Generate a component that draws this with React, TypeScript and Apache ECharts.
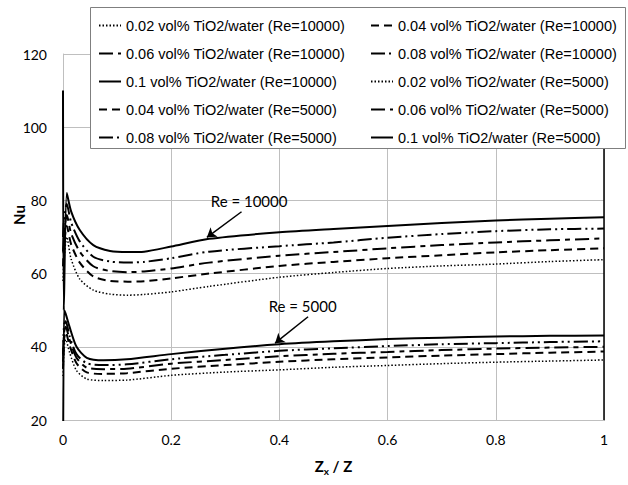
import React, { useEffect, useRef } from "react";
import * as echarts from "echarts";

// ---- data ----
const zRe10000 = [0, 0.0015, 0.007, 0.015, 0.031, 0.056, 0.087, 0.12, 0.15, 0.2, 0.27, 0.4, 0.5, 0.6, 0.7, 0.8, 0.9, 1];
const nu10000_002 = [58, 63, 70, 64, 58.5, 55.5, 54.4, 54.1, 54.3, 55.0, 56.5, 59.0, 60.3, 61.4, 62.1, 62.6, 63.3, 63.8];
const nu10000_004 = [62, 67, 73, 68, 63.0, 59.2, 58.0, 57.8, 57.9, 58.7, 60.0, 62.1, 63.2, 64.2, 65.0, 65.8, 66.4, 66.9];
const nu10000_006 = [66, 70, 76, 71, 66.0, 62.0, 60.7, 60.4, 60.6, 61.4, 63.0, 64.9, 65.9, 66.9, 67.8, 68.5, 69.1, 69.6];
const nu10000_008 = [70, 74, 79, 74, 68.8, 64.6, 63.3, 63.0, 63.2, 64.2, 66.0, 67.5, 68.5, 69.8, 70.8, 71.6, 72.1, 72.3];
const nu10000_010 = [110, 50, 82, 77, 71.9, 67.8, 66.2, 65.9, 66.0, 67.4, 69.5, 71.3, 72.2, 73.0, 73.8, 74.5, 75.0, 75.4];

const zRe5000 = [0, 0.002, 0.005, 0.012, 0.025, 0.044, 0.075, 0.118, 0.2, 0.3, 0.4, 0.5, 0.6, 0.7, 0.8, 0.9, 1];
const nu5000_002 = [32, 40, 42, 38.5, 33.5, 31.2, 30.8, 30.9, 32.2, 33.1, 33.7, 34.4, 34.9, 35.4, 35.8, 36.1, 36.4];
const nu5000_004 = [34, 42, 44, 40.5, 35.5, 33.0, 32.6, 32.8, 34.0, 35.0, 35.9, 36.6, 37.1, 37.6, 38.0, 38.4, 38.7];
const nu5000_006 = [36, 44, 45.5, 42, 37, 34.3, 33.9, 34.0, 35.4, 36.4, 37.4, 38.1, 38.6, 39.1, 39.5, 39.8, 40.0];
const nu5000_008 = [38, 46, 47, 43, 38, 35.5, 35.0, 35.2, 36.6, 37.8, 38.9, 39.6, 40.2, 40.7, 41.0, 41.3, 41.5];
const nu5000_010 = [0, 50, 49, 45.5, 40.0, 37.0, 36.3, 36.6, 38.0, 39.5, 40.7, 41.5, 42.1, 42.5, 42.8, 43.0, 43.1];

const seriesNames = [
  "0.02 vol% TiO2/water (Re=10000)",
  "0.04 vol% TiO2/water (Re=10000)",
  "0.06 vol% TiO2/water (Re=10000)",
  "0.08 vol% TiO2/water (Re=10000)",
  "0.1 vol% TiO2/water (Re=10000)",
  "0.02 vol% TiO2/water (Re=5000)",
  "0.04 vol% TiO2/water (Re=5000)",
  "0.06 vol% TiO2/water (Re=5000)",
  "0.08 vol% TiO2/water (Re=5000)",
  "0.1 vol% TiO2/water (Re=5000)",
];

const annotationLabels = ["Re = 10000", "Re = 5000"];
// annotation anchors in data coordinates: [text center], [arrow start], [arrow tip]
const annText10000 = [0.344, 79.9];
const annFrom10000 = [0.33, 76.9];
const annTo10000 = [0.266, 69.9];
const annText5000 = [0.443, 51.1];
const annFrom5000 = [0.453, 48.2];
const annTo5000 = [0.392, 41.0];

const xMin = 0, xMax = 1, xStep = 0.2;
const yMin = 20, yMax = 120, yStep = 20;

// ---- styles ----
const dashStyles: any[] = [
  { type: [1.5, 2], width: 1.5 },
  { type: [8, 5], width: 2 },
  { type: [14, 5, 5, 5], width: 2 },
  { type: [14, 4, 2, 4, 2, 4], width: 2 },
  { type: "solid", width: 2 },
];

const CAL = "Lato";
const ARIAL = "Liberation Sans";

export default function App() {
  const ref = useRef<HTMLDivElement>(null);
  useEffect(() => {
    const chart = echarts.init(ref.current!, null, { renderer: "svg" });

    const groups = [
      { x: zRe10000, vals: [nu10000_002, nu10000_004, nu10000_006, nu10000_008, nu10000_010] },
      { x: zRe5000, vals: [nu5000_002, nu5000_004, nu5000_006, nu5000_008, nu5000_010] },
    ];
    const annotations = [
      { text: annotationLabels[0], at: annText10000, from: annFrom10000, to: annTo10000 },
      { text: annotationLabels[1], at: annText5000, from: annFrom5000, to: annTo5000 },
    ];

    const series: any[] = [];
    groups.forEach((g, gi) => {
      g.vals.forEach((vals, si) => {
        const s: any = {
          name: seriesNames[gi * 5 + si],
          type: "line",
          data: g.x.map((xv, i) => [xv, vals[i]]),
          symbol: "none",
          showSymbol: false,
          smooth: 0.25,
          clip: true,
          z: 2,
          itemStyle: { color: "#000" },
          lineStyle: { color: "#000", width: dashStyles[si].width, type: dashStyles[si].type, cap: "butt" },
          emphasis: { disabled: true },
        };
        if (si === 4) {
          const a = annotations[gi];
          s.markLine = {
            silent: true,
            symbol: ["none", "arrow"],
            symbolSize: 9,
            label: { show: false },
            lineStyle: { color: "#000", width: 1.5, type: "solid" },
            data: [[{ coord: a.from }, { coord: a.to }]],
          };
          s.markPoint = {
            silent: true,
            symbol: "rect",
            symbolSize: 1,
            itemStyle: { color: "rgba(0,0,0,0)" },
            label: {
              show: true,
              position: "inside",
              formatter: a.text,
              color: "#000",
              fontFamily: CAL,
              fontSize: 15,
            },
            data: [{ coord: a.at, value: 0 }],
          };
        }
        series.push(s);
      });
    });

    const legendText = { fontFamily: ARIAL, fontSize: 14.5, color: "#000" };
    const legendCommon = {
      orient: "vertical",
      top: 18,
      itemWidth: 22,
      itemHeight: 14,
      itemGap: 13,
      padding: 0,
      selectedMode: false,
      textStyle: legendText,
      itemStyle: { color: "rgba(0,0,0,0)", borderWidth: 0, opacity: 0 },
      z: 10,
    };

    const option: any = {
      animation: false,
      backgroundColor: "#fff",
      grid: { left: 63, right: 24, top: 54, bottom: 65 },
      xAxis: {
        type: "value",
        min: xMin,
        max: xMax,
        interval: xStep,
        axisLine: { show: true, lineStyle: { color: "#bfbfbf", width: 1 } },
        axisTick: { show: false },
        axisLabel: { color: "#000", fontFamily: CAL, fontSize: 14, margin: 12 },
        splitLine: { show: true, lineStyle: { color: "#bfbfbf", width: 1 } },
        name: "{a|Z}{b|x}{a| / Z}",
        nameLocation: "middle",
        nameGap: 36,
        nameTextStyle: {
          rich: {
            a: { fontFamily: CAL, fontWeight: "bold", fontSize: 15, color: "#000", lineHeight: 20 },
            b: { fontFamily: CAL, fontWeight: "bold", fontSize: 10, color: "#000", lineHeight: 20, padding: [10, 0, 0, 0] },
          },
        },
      },
      yAxis: [
        {
          type: "value",
          min: yMin,
          max: yMax,
          interval: yStep,
          axisLine: { show: true, lineStyle: { color: "#bfbfbf", width: 1 } },
          axisTick: { show: false },
          axisLabel: { color: "#000", fontFamily: CAL, fontSize: 14, margin: 16 },
          splitLine: { show: true, lineStyle: { color: "#bfbfbf", width: 1 } },
        },
        {
          type: "value",
          position: "right",
          min: yMin,
          max: yMax,
          interval: yStep,
          axisLine: { show: true, lineStyle: { color: "#000", width: 1.5 } },
          axisTick: { show: false },
          axisLabel: { show: false },
          splitLine: { show: false },
        },
      ],
      legend: [
        { ...legendCommon, left: 98, data: [0, 2, 4, 6, 8].map((i) => seriesNames[i]) },
        { ...legendCommon, left: 370, data: [1, 3, 5, 7, 9].map((i) => seriesNames[i]) },
      ],
      graphic: [
        {
          type: "rect",
          z: 5,
          shape: { x: 90.5, y: 7.5, width: 535, height: 141 },
          style: { fill: "#fff", stroke: "#7f7f7f", lineWidth: 1 },
        },
        {
          type: "text",
          z: 5,
          x: 19,
          y: 215,
          rotation: Math.PI / 2,
          style: {
            text: "Nu",
            fontFamily: CAL,
            fontWeight: "bold",
            fontSize: 15,
            fill: "#000",
            align: "center",
            verticalAlign: "middle",
          },
        },
      ],
      series,
    };
    chart.setOption(option);
    return () => chart.dispose();
  }, []);
  return <div ref={ref} style={{ position: "fixed", left: 0, top: 0, width: 628, height: 485 }} />;
}
